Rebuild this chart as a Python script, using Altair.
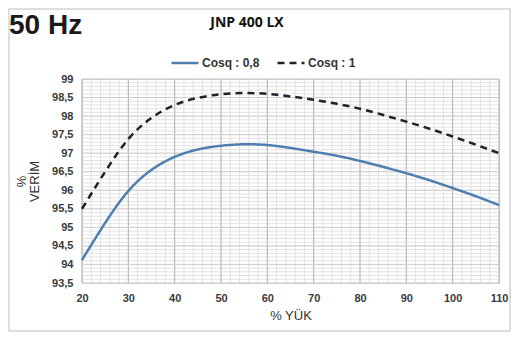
import altair as alt
import pandas as pd
import numpy as np

# ---- data ----
load = [20, 25, 30, 35, 40, 45, 50, 55, 60, 65, 70, 75, 80, 85, 90, 95, 100, 105, 110]
eff_cos08 = [94.12, 95.12, 95.98, 96.55, 96.9, 97.1, 97.2, 97.24, 97.22, 97.14, 97.04,
             96.93, 96.79, 96.63, 96.46, 96.27, 96.06, 95.84, 95.6]
eff_cos1 = [95.5, 96.5, 97.38, 97.95, 98.3, 98.49, 98.59, 98.62, 98.6, 98.53, 98.44,
            98.33, 98.2, 98.03, 97.85, 97.66, 97.45, 97.23, 97.0]
series_names = ["Cosq : 0,8", "Cosq : 1"]
series_colors = ["#4f7fb0", "#1e222c"]
series_dash = [[1, 0], [7, 5]]
x_ticks = [20, 30, 40, 50, 60, 70, 80, 90, 100, 110]
y_ticks = [93.5, 94, 94.5, 95, 95.5, 96, 96.5, 97, 97.5, 98, 98.5, 99]
x_minor = list(range(20, 111, 2))
y_minor = [round(v, 1) for v in np.arange(93.5, 99.0001, 0.1)]
title_main = "50 Hz"
title_model = "JNP 400 LX"

W, H = 417, 204
PL, PT, PR, PB = 74, 71, 12, 49

df = pd.DataFrame({
    "load": load * 2,
    "eff": eff_cos08 + eff_cos1,
    "series": [series_names[0]] * len(load) + [series_names[1]] * len(load),
})

xs = alt.Scale(domain=[20, 110], nice=False, zero=False)
ys = alt.Scale(domain=[93.5, 99], nice=False, zero=False)

FONT = "Liberation Sans"

x_axis = alt.Axis(
    values=x_ticks, title="% YÜK", grid=False, ticks=False, domain=False, labelFlush=False,
    labelFont=FONT, labelFontSize=11, labelFontWeight="bold", labelColor="#3a3a3a",
    labelPadding=9, titleFont=FONT, titleFontSize=13, titleFontWeight="normal",
    titleColor="#333333", titlePadding=6)
y_axis = alt.Axis(
    values=y_ticks, title=["%", "VERİM"], grid=False, ticks=False, domain=False, labelFlush=False,
    labelExpr="replace(toString(datum.value), '.', ',')",
    labelFont=FONT, labelFontSize=11, labelFontWeight="bold", labelColor="#3a3a3a",
    labelPadding=9, titleFont=FONT, titleFontSize=13, titleFontWeight="normal",
    titleColor="#333333", titlePadding=10, titleLineHeight=13)

minor_x = alt.Chart(pd.DataFrame({"v": x_minor})).mark_rule(
    color="#e2e2e2", strokeWidth=1).encode(x=alt.X("v:Q", scale=xs, axis=x_axis, title="% YÜK"))
minor_y = alt.Chart(pd.DataFrame({"v": y_minor})).mark_rule(
    color="#e2e2e2", strokeWidth=1).encode(y=alt.Y("v:Q", scale=ys, axis=y_axis, title=["%", "VERİM"]))
major_x = alt.Chart(pd.DataFrame({"v": x_ticks})).mark_rule(
    color="#b4b4b4", strokeWidth=1).encode(x=alt.X("v:Q", scale=xs, axis=x_axis, title="% YÜK"))
major_y = alt.Chart(pd.DataFrame({"v": y_ticks})).mark_rule(
    color="#cfcfcf", strokeWidth=1).encode(y=alt.Y("v:Q", scale=ys, axis=y_axis, title=["%", "VERİM"]))

leg = alt.Legend(
    title=None, orient="none", legendX=88, legendY=-31, direction="horizontal",
    symbolType="stroke", symbolSize=729, symbolStrokeWidth=2.5,
    labelFont=FONT, labelFontSize=12, labelFontWeight="bold", labelColor="#333333",
    labelOffset=2, columnPadding=12,
)

lines = alt.Chart(df).mark_line(interpolate="natural", strokeWidth=2.5).encode(
    x=alt.X("load:Q", scale=xs, axis=x_axis, title="% YÜK"),
    y=alt.Y("eff:Q", scale=ys, axis=y_axis, title=["%", "VERİM"]),
    color=alt.Color("series:N", scale=alt.Scale(domain=series_names, range=series_colors),
                    legend=leg, title=None),
    strokeDash=alt.StrokeDash("series:N", scale=alt.Scale(domain=series_names, range=series_dash),
                              legend=leg, title=None),
)

t1 = alt.Chart(pd.DataFrame({"t": [title_main]})).mark_text(
    font=FONT, fontSize=28, fontWeight="bold", color="#1a1a1a", align="left", baseline="alphabetic"
).encode(text="t:N", x=alt.value(1 - PL), y=alt.value(-45))

t2 = alt.Chart(pd.DataFrame({"t": [title_model]})).mark_text(
    font="Open Sans", fontSize=14, fontWeight="bold", color="#111111", align="center", baseline="alphabetic"
).encode(text="t:N", x=alt.value(247 - 8 - PL), y=alt.value(27 - 8 - PT))

frame = alt.Chart(pd.DataFrame({"a": [0]})).mark_rect(
    fill=None, stroke="#d4d4d4", strokeWidth=1.5
).encode(x=alt.value(-PL + 1), x2=alt.value(W + PR - 1), y=alt.value(-PT + 1), y2=alt.value(H + PB - 1))

chart = alt.layer(minor_x, minor_y, major_x, major_y, lines, t1, t2, frame).properties(
    width=W, height=H,
    autosize=alt.AutoSizeParams(type="none"),
    padding={"left": PL, "top": PT, "right": PR, "bottom": PB},
    background="white",
).configure_view(stroke="#bcbcbc", strokeWidth=1)

chart.save("out.html", embed_options={"renderer": "svg", "actions": False})
